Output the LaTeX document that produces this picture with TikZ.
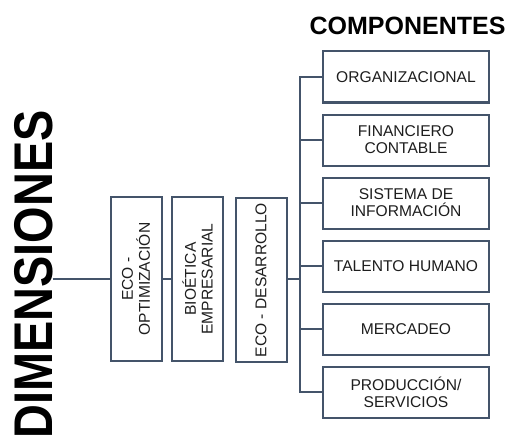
\documentclass[tikz,border=0pt]{standalone}
\usepackage{fontspec}
\setmainfont{Liberation Sans}
\usepackage{tikz}
\usetikzlibrary{positioning}

\definecolor{slate}{HTML}{44546A}
\definecolor{ink}{HTML}{1E1E1E}

\tikzset{
	box/.style = {draw = slate, line width = 2pt, fill = white, text = ink, align = center,
		inner sep = 0pt, font = \fontsize{15.6}{16.8}\selectfont},
	hbox/.style = {box, minimum width = 166pt, minimum height = 51pt},
	vbox/.style = {box, rotate = 90, minimum width = 164pt, minimum height = 51pt},
	link/.style = {draw = slate, line width = 2pt}
}

\begin{document}
\begin{tikzpicture}[x = 1pt, y = -1pt]
			%\draw[help lines] (0,0) grid (513,441);
			\useasboundingbox (0, 0) rectangle (513, 441);
			
			\node[rotate = 90, anchor = base, inner sep = 0pt, font = \fontsize{54.5}{60}\selectfont\bfseries] (dim) at (52, 274.5) {\scalebox{0.86}[1]{DIMENSIONES}};
			\node[anchor = base, inner sep = 0pt, font = \fontsize{25}{28}\selectfont\bfseries] (comp) at (407.5, 35) {COMPONENTES};
			
			% rotated boxes: north is the left side, south the right side
			\node[vbox] (eco) at (136, 279) {ECO -\\OPTIMIZACIÓN};
			\node[vbox] (bio) at (197.5, 279) {BIOÉTICA\\EMPRESARIAL};
			\node[vbox] (des) at (261, 280) {ECO - DESARROLLO};
			
			\node[hbox] (org) at (406, 77) {ORGANIZACIONAL};
			\node[hbox] (fin) at (406, 140) {FINANCIERO\\CONTABLE};
			\node[hbox] (sis) at (406, 203) {SISTEMA DE\\INFORMACIÓN};
			\node[hbox] (tal) at (406, 266) {TALENTO HUMANO};
			\node[hbox] (mer) at (406, 329) {MERCADEO};
			\node[hbox] (pro) at (406, 392) {PRODUCCIÓN/\\SERVICIOS};
			
			\coordinate (tr) at (300, 0);
			
			\draw[link] (dim.south |- eco.north) -- (eco.north);
			\draw[link] (eco.south) -- (bio.north);
			\draw[link] (des.south |- eco.north) -- (eco.north -| tr);
			
			\draw[link] (org.west) -- (org.west -| tr) |- (pro.west);
			\draw[link] (fin.west) -- (fin.west -| tr);
			\draw[link] (sis.west) -- (sis.west -| tr);
			\draw[link] (tal.west) -- (tal.west -| tr);
			\draw[link] (mer.west) -- (mer.west -| tr);
			
		\end{tikzpicture}
\end{document}
